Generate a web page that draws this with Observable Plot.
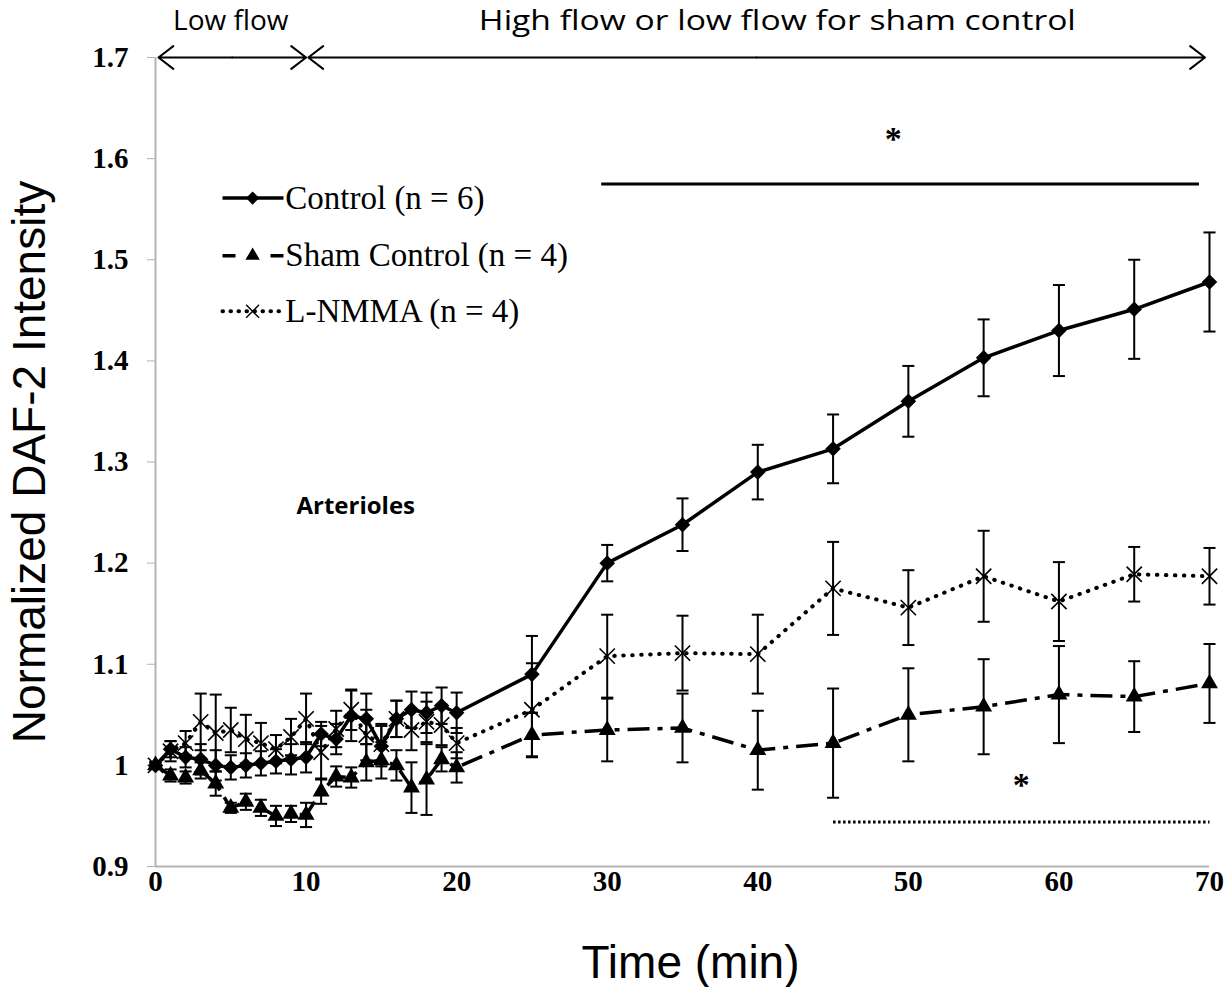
<!DOCTYPE html>
<html><head><meta charset="utf-8">
<script src="https://cdn.jsdelivr.net/npm/d3@7"></script>
<script src="https://cdn.jsdelivr.net/npm/@observablehq/plot@0.6"></script>
<style>html,body{margin:0;padding:0;background:#fff}</style>
</head><body><div id="chart"></div>
<script>
// ---- data ----
const times = [0,1,2,3,4,5,6,7,8,9,10,11,12,13,14,15,16,17,18,19,20,25,30,35,40,45,50,55,60,65,70];
const controlMean = [1.000,1.016,1.008,1.006,1.000,0.998,1.000,1.002,1.004,1.006,1.008,1.031,1.026,1.049,1.046,1.019,1.046,1.055,1.052,1.059,1.052,1.090,1.200,1.238,1.290,1.313,1.360,1.403,1.430,1.451,1.478];
const controlErr  = [0.003,0.008,0.010,0.015,0.015,0.012,0.012,0.012,0.012,0.015,0.015,0.012,0.015,0.025,0.025,0.020,0.018,0.018,0.020,0.018,0.020,0.038,0.018,0.026,0.027,0.034,0.035,0.038,0.045,0.049,0.049];
const shamMean = [1.000,0.990,0.988,0.995,0.982,0.958,0.964,0.958,0.950,0.952,0.951,0.974,0.989,0.988,1.003,1.005,1.000,0.978,0.986,1.006,0.998,1.030,1.035,1.037,1.015,1.022,1.050,1.058,1.070,1.068,1.081];
const shamErr  = [0.003,0.006,0.006,0.008,0.012,0.005,0.008,0.008,0.010,0.008,0.012,0.012,0.010,0.010,0.018,0.018,0.015,0.025,0.035,0.012,0.015,0.022,0.031,0.034,0.039,0.054,0.046,0.047,0.048,0.035,0.039];
const lnmmaMean = [1.000,1.014,1.022,1.043,1.032,1.035,1.026,1.022,1.016,1.028,1.046,1.013,1.036,1.055,1.030,1.021,1.046,1.035,1.043,1.040,1.022,1.055,1.108,1.111,1.110,1.175,1.156,1.187,1.162,1.189,1.187];
const lnmmaErr  = [0.003,0.010,0.012,0.028,0.038,0.022,0.024,0.020,0.014,0.018,0.025,0.026,0.018,0.020,0.025,0.020,0.018,0.020,0.020,0.020,0.015,0.046,0.041,0.037,0.039,0.046,0.037,0.045,0.039,0.027,0.028];
const seriesNames = ["Control (n = 6)", "Sham Control (n = 4)", "L-NMMA (n = 4)"];
const xTicks = [0,10,20,30,40,50,60,70];
const yTicks = [0.9,1.0,1.1,1.2,1.3,1.4,1.5,1.6,1.7];
const phaseLabels = ["Low flow", "High flow or low flow for sham control"];
const phaseStart = [0.2, 10.15];
const phaseEnd = [10.0, 69.7];
const sigStart = [29.6, 45.0];
const sigEnd = [69.3, 70.0];
const sigLevel = [1.575, 0.944];
const starX = [49.0, 57.5];
const starY = [1.619, 0.98];

// ---- styles / layout ----
const styles = [
  {symbol: "diamond2", r: 7, fill: "black", stroke: "none", dash: null, cap: "butt", width: 3.5},
  {symbol: "triangle", r: 6.3, fill: "black", stroke: "none", dash: "22,8,5,8", cap: "butt", width: 3.5},
  {symbol: "times", r: 7, fill: "none", stroke: "black", dash: "0.5,8.5", cap: "round", width: 4}
];
const phaseLabelX = [5.0, 41.3];
const phaseLabelWidth = [null, 597];
const legendX1 = 4.45, legendX2 = 8.5, legendMarkX = 6.45, legendTextX = 8.62;
const legendY = [1.561, 1.504, 1.449];
const legendDash = [null, "13,35", "0.5,7.5"];

const means = [controlMean, shamMean, lnmmaMean];
const errs = [controlErr, shamErr, lnmmaErr];
const rows = seriesNames.flatMap((name, i) => times.map((t, j) => ({series: i, t, mean: means[i][j], err: errs[i][j]})));
const capSymbol = {draw(context, size) { const w = Math.sqrt(size) / 2; context.moveTo(-w, 0); context.lineTo(w, 0); }};
const fmt = d => String(+d.toFixed(1));

const marks = [];
// axis lines
marks.push(Plot.ruleX([0], {stroke: "#b3b3b3", strokeWidth: 2}));
marks.push(Plot.ruleY([0.9], {stroke: "#b3b3b3", strokeWidth: 2}));
marks.push(Plot.axisY({ticks: yTicks, tickFormat: fmt, tickSize: 8, tickPadding: 19, stroke: "#b3b3b3", fontSize: 29, fontWeight: "bold", fontFamily: "Liberation Serif", label: null}));
marks.push(Plot.axisX({ticks: xTicks, tickSize: 0, tickPadding: 4, stroke: "#b3b3b3", fontSize: 29, fontWeight: "bold", fontFamily: "Liberation Serif", label: null}));

// lines
seriesNames.forEach((name, i) => {
  const s = styles[i];
  marks.push(Plot.line(rows.filter(d => d.series === i), {x: "t", y: "mean", stroke: "black", strokeWidth: s.width, strokeDasharray: s.dash, strokeLinecap: s.cap, strokeLinejoin: "round"}));
});
// error bars
marks.push(Plot.ruleX(rows, {x: "t", y1: d => d.mean - d.err, y2: d => d.mean + d.err, stroke: "black", strokeWidth: 2}));
marks.push(Plot.dot(rows, {x: "t", y: d => d.mean + d.err, symbol: capSymbol, r: 6.8, stroke: "black", strokeWidth: 2, fill: "none"}));
marks.push(Plot.dot(rows, {x: "t", y: d => d.mean - d.err, symbol: capSymbol, r: 6.8, stroke: "black", strokeWidth: 2, fill: "none"}));
// markers
seriesNames.forEach((name, i) => {
  const s = styles[i];
  marks.push(Plot.dot(rows.filter(d => d.series === i), {x: "t", y: "mean", symbol: s.symbol, r: s.r, fill: s.fill, stroke: s.stroke, strokeWidth: 1.6}));
});

// phase arrows (double headed: two arrows from the middle)
const arrowRows = phaseLabels.flatMap((lab, i) => {
  const mid = (phaseStart[i] + phaseEnd[i]) / 2;
  return [{x1: mid, x2: phaseStart[i]}, {x1: mid, x2: phaseEnd[i]}];
});
marks.push(Plot.arrow(arrowRows, {x1: "x1", x2: "x2", y1: () => 1.7, y2: () => 1.7, stroke: "black", strokeWidth: 2, headLength: 14, headAngle: 75, insetStart: 0, insetEnd: 0}));
marks.push(Plot.text(phaseLabels, {x: (d, i) => phaseLabelX[i], y: () => 1.7, dy: -36, text: d => d, fontFamily: "Open Sans", fontSize: 28, fill: "black", className: "phase-label"}));

// significance bars
const sigRows = sigStart.map((s, i) => ({x1: s, x2: sigEnd[i], y: sigLevel[i], i}));
marks.push(Plot.link(sigRows.filter(d => d.i === 0), {x1: "x1", x2: "x2", y1: "y", y2: "y", stroke: "black", strokeWidth: 3}));
marks.push(Plot.link(sigRows.filter(d => d.i === 1), {x1: "x1", x2: "x2", y1: "y", y2: "y", stroke: "black", strokeWidth: 3, strokeDasharray: "2.5,2.5"}));
marks.push(Plot.text(starX, {x: d => d, y: (d, i) => starY[i], text: () => "*", fontFamily: "Liberation Serif", fontWeight: "bold", fontSize: 34, fill: "black"}));

// Arterioles label
marks.push(Plot.text(["Arterioles"], {x: () => 13.3, y: () => 1.2565, text: d => d, fontFamily: "Open Sans", fontWeight: "bold", fontSize: 24, fill: "black"}));

// legend
seriesNames.forEach((name, i) => {
  const s = styles[i];
  marks.push(Plot.link([name], {x1: () => legendX1, x2: () => legendX2, y1: () => legendY[i], y2: () => legendY[i], stroke: "black", strokeWidth: s.width, strokeDasharray: legendDash[i], strokeLinecap: s.cap}));
  marks.push(Plot.dot([name], {x: () => legendMarkX, y: () => legendY[i], symbol: s.symbol, r: s.r * 0.85, fill: s.fill, stroke: s.stroke, strokeWidth: 1.4}));
  marks.push(Plot.text([name], {x: () => legendTextX, y: () => legendY[i], text: d => d, textAnchor: "start", fontFamily: "Liberation Serif", fontSize: 33, fill: "black"}));
});

// axis titles
marks.push(Plot.text(["Time (min)"], {frameAnchor: "bottom", dy: 97, dx: 8, lineAnchor: "middle", text: d => d, fontFamily: "Liberation Sans", fontSize: 46, fill: "black"}));
marks.push(Plot.text(["Normalized DAF-2 Intensity"], {frameAnchor: "left", dx: -125, rotate: -90, textAnchor: "middle", lineAnchor: "middle", text: d => d, fontFamily: "Liberation Sans", fontSize: 46, fill: "black"}));

const chart = Plot.plot({
  width: 1228, height: 987,
  marginLeft: 155, marginRight: 19, marginTop: 57, marginBottom: 121,
  x: {domain: [0, 70]},
  y: {domain: [0.9, 1.7]},
  style: {background: "white", color: "black", overflow: "visible"},
  marks
});
// stretch the long phase label to the width it has in the original
d3.select(chart).selectAll(".phase-label text").each(function() {
  const k = phaseLabels.indexOf(this.textContent);
  if (k >= 0 && phaseLabelWidth[k]) {
    this.setAttribute("textLength", phaseLabelWidth[k]);
    this.setAttribute("lengthAdjust", "spacingAndGlyphs");
  }
});
document.getElementById("chart").appendChild(chart);
</script>
</body></html>
